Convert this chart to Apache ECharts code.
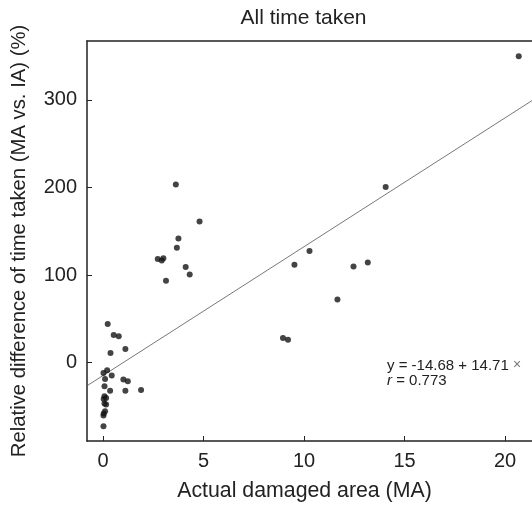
<!DOCTYPE html>
<html><head><meta charset="utf-8">
<script src="https://cdn.jsdelivr.net/npm/echarts@6/dist/echarts.min.js"></script>
<style>html,body{margin:0;padding:0;background:#fff}#c{width:532px;height:506px}</style>
</head><body><div id="c"></div>
<script>
// Actual damaged area (MA)
var areaMA = [0.23,0.53,0.78,0.37,1.11,0.02,0.2,0.43,0.1,1.01,1.23,0.07,0.35,1.11,1.89,0.07,0.15,0.03,0.07,0.15,0.1,0.03,0.02,0.02,
  3.62,4.80,3.75,3.67,2.72,2.92,3.0,4.11,4.31,3.13,
  8.95,9.2,9.52,10.27,11.66,12.46,13.17,14.06,20.68];
// Relative difference of time taken (%)
var relDiff = [44,31.6,30,11,15.6,-11.8,-8.7,-14.8,-18.6,-19.4,-21.3,-27,-32,-32,-31.2,-38.4,-40.3,-41.4,-46.8,-47.9,-55.5,-58.2,-60.5,-72.6,
  203.4,161.2,141.8,131.2,118.3,116.5,119.3,109.1,100.7,93.5,
  28,26,111.8,127.4,72.2,109.9,114.4,200.7,350];
var xTicks = [0,5,10,15,20];
var yTicks = [0,100,200,300];
var fitIntercept = -14.68, fitSlope = 14.71, fitR = 0.773;
var fitXEnds = [-0.8, 21.34];

var pts = areaMA.map(function(x,i){return [x, relDiff[i]];});
var fitPts = fitXEnds.map(function(x){return [x, fitIntercept + fitSlope*x];});
var FONT = '"Liberation Sans", Arial, sans-serif';
var AX = '#222';

var chart = echarts.init(document.getElementById('c'), null, {renderer:'canvas'});
chart.setOption({
  animation:false,
  backgroundColor:'#fff',
  grid:{left:87, top:41, right:0, height:400, show:false, outerBoundsMode:'none', containLabel:false},
  xAxis:[{type:'value', min:-0.8, max:21.34, position:'bottom',
    axisLine:{show:true, onZero:false, lineStyle:{color:AX, width:1.5}},
    axisTick:{show:true, inside:true, length:5, customValues:xTicks, lineStyle:{color:AX}},
    axisLabel:{customValues:xTicks, fontFamily:FONT, fontSize:20, color:AX, margin:10},
    splitLine:{show:false}},
    {type:'value', min:-0.8, max:21.34, position:'top',
    axisLine:{show:true, onZero:false, lineStyle:{color:AX, width:1.5}},
    axisTick:{show:false}, axisLabel:{show:false}, splitLine:{show:false}}],
  yAxis:{type:'value', min:-89.5, max:367.3,
    name:'Relative difference of time taken (MA vs. IA) (%)', nameLocation:'middle', nameGap:58,
    nameTextStyle:{fontFamily:FONT, fontSize:20.3, color:AX},
    axisLine:{show:true, onZero:false, lineStyle:{color:AX, width:1.5}},
    axisTick:{show:true, inside:true, length:5, customValues:yTicks, lineStyle:{color:AX}},
    axisLabel:{customValues:yTicks, fontFamily:FONT, fontSize:20, color:AX, margin:10},
    splitLine:{show:false}},
  graphic:[
    {type:'text', x:303.5, y:18, style:{text:'All time taken', fontFamily:FONT, fontSize:21, fill:AX, align:'center', verticalAlign:'middle'}},
    {type:'text', x:304.5, y:491, style:{text:'Actual damaged area (MA)', fontFamily:FONT, fontSize:21.3, fill:AX, align:'center', verticalAlign:'middle'}},
    {type:'text', left:387, top:358, style:{
      text:'{a|y = ' + fitIntercept + ' + ' + fitSlope + ' }{b|×}',
      rich:{a:{fontFamily:FONT, fontSize:15, fill:AX}, b:{fontFamily:FONT, fontSize:14, fill:'#777'}}}},
    {type:'text', left:387, top:373, style:{
      text:'{i|r} = ' + fitR, fontFamily:FONT, fontSize:15, fill:AX,
      rich:{i:{fontFamily:FONT, fontSize:15, fontStyle:'italic', fill:AX}}}}],
  series:[
    {type:'line', data:fitPts, showSymbol:false, symbol:'none', clip:true,
      lineStyle:{color:'#555', width:0.8}, silent:true, z:1},
    {type:'scatter', data:pts, symbol:'circle', symbolSize:6,
      itemStyle:{color:'#151515'}, z:3}
  ]
});
</script></body></html>
